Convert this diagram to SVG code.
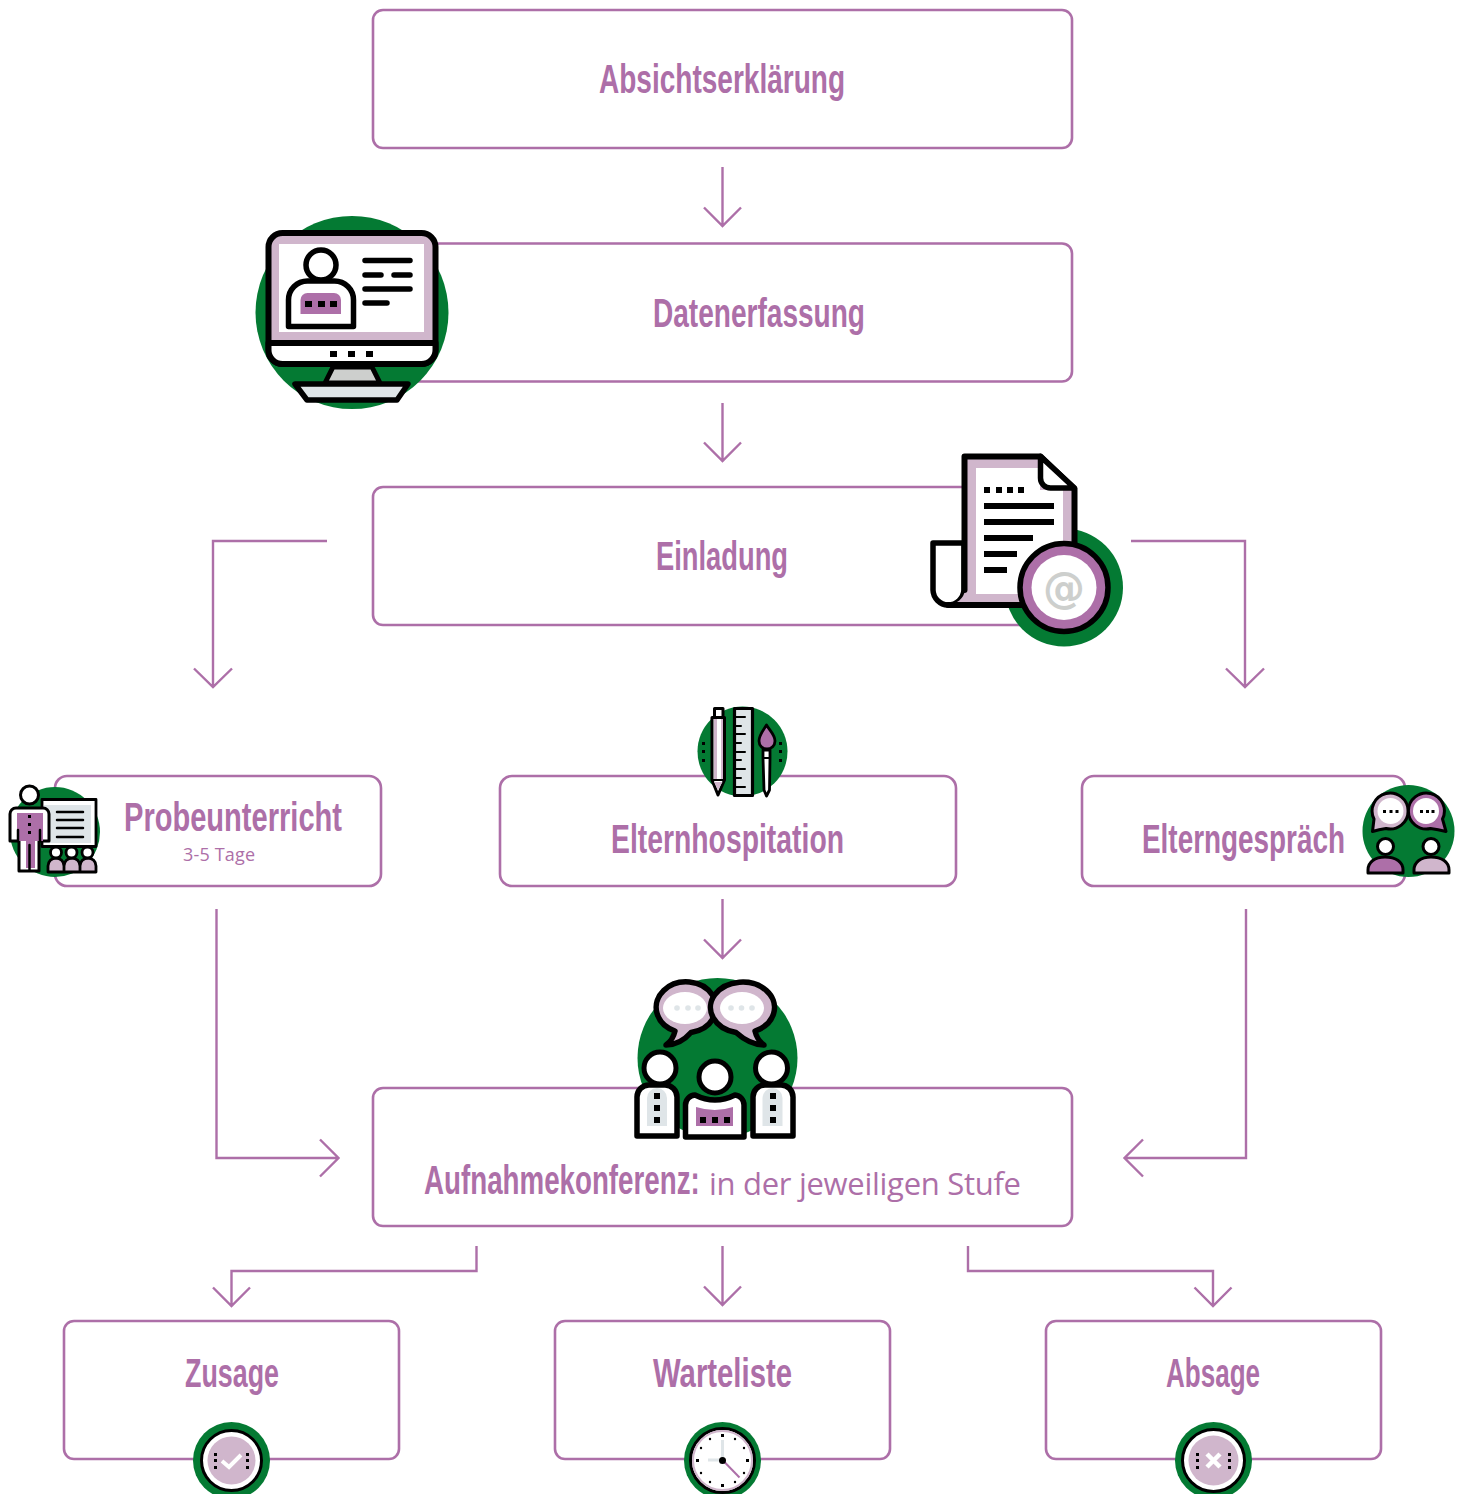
<svg xmlns="http://www.w3.org/2000/svg" width="1464" height="1494" viewBox="0 0 1464 1494">
<style>
.box{fill:#fff;stroke:#ad6fa8;stroke-width:2.6}
.con{fill:none;stroke:#ad6fa8;stroke-width:2.4}
.h{font-family:"Liberation Sans",sans-serif;font-weight:700;font-size:40px;fill:#ad6fa8}
.s{font-family:"Open Sans",sans-serif;font-weight:400;fill:#ad6fa8}
.g{fill:#047a33}
.k{stroke:#000;stroke-linejoin:round;stroke-linecap:round}
.l{fill:none;stroke:#000;stroke-linecap:round}
.b{fill:#000}
.lp{fill:#d0b6cc}
.p{fill:#ad6fa8}
.gr{fill:#dfe5e8}
.w{fill:#fff}
</style>
<g id="connectors" class="con">
<path d="M722.5 167V226M704 207.500L722.500 226L741 207.500"/>
<path d="M722.500 403V461M704 442.500L722.500 461L741 442.500"/>
<path d="M327 541H213V687M194 668.500L213 687L232 668.500"/>
<path d="M1131 541H1245V687M1226 668.500L1245 687L1264 668.500"/>
<path d="M722.500 899V958M704 939.500L722.500 958L741 939.500"/>
<path d="M216.500 909V1158H338M320 1139.500L338.500 1158L320 1176.500"/>
<path d="M1246 909V1158H1125M1143 1139.500L1124.500 1158L1143 1176.500"/>
<path d="M476.500 1246V1271H231.500V1306M213 1287.500L231.500 1306L250 1287.500"/>
<path d="M722.500 1246V1305M704 1286.500L722.500 1305L741 1286.500"/>
<path d="M968 1246V1271H1213V1306M1194.500 1287.500L1213 1306L1231.500 1287.500"/>
</g>
<g id="n-absicht">
<rect class="box" x="373" y="10" width="699" height="138" rx="10"/>
<text class="h" x="599" y="93" textLength="246" lengthAdjust="spacingAndGlyphs">Absichtserklärung</text>
</g>
<g id="n-daten">
<rect class="box" x="373" y="243.500" width="699" height="138" rx="10"/>
<text class="h" x="653" y="327" textLength="212" lengthAdjust="spacingAndGlyphs">Datenerfassung</text>
<circle class="g" cx="352" cy="312.500" r="96.500"/>
<rect class="lp k" x="268.500" y="233" width="167" height="131" rx="14" stroke-width="6"/>
<path class="w k" d="M268.500 343H435.500V350A14 14 0 0 1 421.500 364H282.500A14 14 0 0 1 268.500 350Z" stroke-width="6"/>
<rect class="w" x="279" y="244" width="145" height="88"/>
<path d="M333 367L325 383H380L372 367Z" fill="#cdcfcd" class="k" stroke-width="5"/>
<path class="gr k" d="M295 384H408L397 400H307Z" stroke-width="5.500"/>
<rect class="b" x="330" y="351" width="7" height="6"/><rect class="b" x="348" y="351" width="7" height="6"/><rect class="b" x="366" y="351" width="7" height="6"/>
<circle class="w k" cx="321" cy="265" r="15" stroke-width="5.500"/>
<path class="w k" d="M288.500 326.500V300A19 19 0 0 1 307.500 281H334.500A19 19 0 0 1 353.500 300V326.500Z" stroke-width="5.500"/>
<path class="p" d="M300.500 314V300A7 7 0 0 1 307.500 293H334A7 7 0 0 1 341 300V314Z"/>
<rect class="b" x="305" y="301" width="7" height="6"/><rect class="b" x="318" y="301" width="7" height="6"/><rect class="b" x="330" y="301" width="7" height="6"/>
<path class="l" stroke-width="5.500" d="M365 260.500H410M365 275H381M394 275H410M365 289H410M365 303H387"/>
</g>
<g id="n-einladung">
<rect class="box" x="373" y="487" width="699" height="138" rx="10"/>
<text class="h" x="656" y="570" textLength="132" lengthAdjust="spacingAndGlyphs">Einladung</text>
<circle class="g" cx="1064" cy="587.500" r="59"/>
<path class="w k" d="M933 543H964V590A16 16 0 0 1 948 605A15.500 15.500 0 0 1 933 590Z" stroke-width="5.500"/>
<path class="lp" d="M965 458H1040L1074 488V560L1040 604H948A16 16 0 0 0 965 590Z"/>
<path class="w" d="M976 468H1040V490H1063V594H976Z"/>
<path class="k" fill="none" stroke-width="6" d="M964.500 590V456.500H1040.500L1074.500 489V560M948 605H1040"/>
<path class="w k" d="M1040.500 456.500V478A10 10 0 0 0 1050.500 488H1074.500Z" stroke-width="5.500"/>
<path class="b" d="M984 487h6v6h-6zM996 487h6v6h-6zM1007 487h6v6h-6zM1018 487h6v6h-6zM984 503h70v6h-70zM984 519h70v6h-70zM984 535h49v6h-49zM984 551h33v6h-33zM984 567h23v6h-23z"/>
<circle cx="1064" cy="587.500" r="44" class="p k" stroke-width="5.500"/>
<circle cx="1064" cy="587.500" r="32.500" class="w"/>
<text x="1064" y="603" text-anchor="middle" font-family="DejaVu Sans,sans-serif" font-size="42" font-weight="700" fill="#cdcfcd">@</text>
</g>
<g id="n-probe">
<rect class="box" x="55" y="776" width="326" height="110" rx="12"/>
<text class="h" x="124" y="831" textLength="218" lengthAdjust="spacingAndGlyphs">Probeunterricht</text>
<text class="s" x="183" y="861" font-size="18" textLength="72">3-5 Tage</text>
<circle class="g" cx="55" cy="832" r="45"/>
<rect class="w k" x="42" y="799.500" width="54" height="47" stroke-width="2.800"/>
<rect class="gr" x="44" y="805" width="47" height="38"/>
<path class="l" stroke-width="2.500" stroke-linecap="butt" d="M57 812H83M57 820H83M57 828H83M57 837H83"/>
<circle class="w k" cx="29.500" cy="795" r="9" stroke-width="3"/>
<path class="w k" d="M10 841V814A6 6 0 0 1 16 808H43A6 6 0 0 1 49 814V841H39V871H19V841Z" stroke-width="3"/>
<path class="p" d="M17 813H43V841H35V868H26V841H17Z"/>
<path class="l" stroke-width="2.500" d="M29.500 845V870M18 830V841M40 830V841"/>
<path class="b" d="M28 815h3v3h-3zM28 823h3v3h-3zM28 831h3v3h-3z"/>
<path class="lp k" stroke-width="2.800" d="M48 872V866A8 8 0 0 1 64 866V872ZM64 872V866A8 8 0 0 1 80 866V872ZM80 872V866A8 8 0 0 1 96 866V872Z"/>
<g class="w k" stroke-width="2.800"><circle cx="56" cy="852.500" r="5.500"/><circle cx="71.500" cy="852.500" r="5.500"/><circle cx="87.500" cy="852.500" r="5.500"/></g>
</g>
<g id="n-hospitation">
<rect class="box" x="500" y="776" width="456" height="110" rx="12"/>
<text class="h" x="611" y="853" textLength="233" lengthAdjust="spacingAndGlyphs">Elternhospitation</text>
<circle class="g" cx="742.500" cy="751.500" r="45"/>
<rect class="w k" x="714.500" y="708.500" width="8.500" height="9" stroke-width="3"/>
<path class="w k" d="M712 717.500H724.500V780L718 795L712 780Z" stroke-width="3"/>
<path class="lp" d="M714 719H717V779H714ZM714 782H722.500L718 790Z"/><rect class="lp" x="721" y="719" width="2" height="60"/>
<path class="l" stroke-width="2" d="M712 780H724.500"/>
<rect class="gr k" x="734.500" y="708.500" width="18" height="87" stroke-width="3.200"/>
<path class="l" stroke-width="2" stroke-linecap="butt" d="M735 717H745M735 726H741M735 734H745M735 743H741M735 752H745M735 760H741M735 769H745M735 778H741M735 787H745"/>
<path class="p k" d="M766.500 725C763 731 759 735 759 741A7.500 7.500 0 0 0 775 741C775 735 770 731 766.500 725Z" stroke-width="2.800"/>
<path class="w k" d="M763 750H770V758L769.500 790L766.500 796L764 790L763 758Z" stroke-width="2.800"/>
<path class="l" stroke-width="2" d="M763 758H770"/>
<path class="b" d="M702 742h3v3h-3zM702 750h3v3h-3zM702 759h3v3h-3zM779 742h3v3h-3zM779 750h3v3h-3zM779 759h3v3h-3z"/>
</g>
<g id="n-gespraech">
<rect class="box" x="1082" y="776" width="323" height="110" rx="12"/>
<text class="h" x="1142" y="853" textLength="203" lengthAdjust="spacingAndGlyphs">Elterngespräch</text>
<circle class="g" cx="1408.500" cy="831" r="46"/>
<path class="lp k" d="M1372.500 831.500L1374 819A18 18 0 1 1 1386 828.500Q1379 829.500 1372.500 831.500Z" stroke-width="3"/>
<circle class="w" cx="1390.500" cy="811" r="13"/>
<path class="p k" d="M1446 831.500L1442.500 819A18 18 0 1 0 1430.500 828.500Q1438 829.500 1446 831.500Z" stroke-width="3"/>
<circle class="w" cx="1426" cy="811" r="13"/>
<path class="b" d="M1383 810h3v3h-3zM1389.500 810h3v3h-3zM1395.500 810h3v3h-3zM1420 810h3v3h-3zM1426 810h3v3h-3zM1431.500 810h3v3h-3z"/>
<path class="p k" d="M1368 873V870C1368 862 1375 857 1385 857C1396 857 1403 862 1403 870V873Z" stroke-width="3"/>
<circle class="w k" cx="1385.500" cy="846.500" r="8" stroke-width="3"/>
<path class="lp k" d="M1414 873V870C1414 862 1421 857 1431 857C1442 857 1449 862 1449 870V873Z" stroke-width="3"/>
<circle class="w k" cx="1431" cy="846.500" r="8" stroke-width="3"/>
</g>
<g id="n-aufnahme">
<rect class="box" x="373" y="1088" width="699" height="138" rx="10"/>
<text class="h" transform="translate(424 1194) scale(.6935 1)">Aufnahmekonferenz:</text>
<text class="s" x="709" y="1195" font-size="31" textLength="312">in der jeweiligen Stufe</text>
<circle class="g" cx="717.500" cy="1058" r="80"/>
<path class="lp k" d="M666 1045Q673 1040 675 1031A30 25.500 0 1 1 691 1032.500Q680 1045 666 1045Z" stroke-width="5.500"/>
<ellipse class="w" cx="685" cy="1008" rx="22" ry="16"/>
<path class="lp k" d="M764 1045Q757 1040 755 1031A32 25.500 0 1 0 736 1032.500Q750 1045 764 1045Z" stroke-width="5.500"/>
<ellipse class="w" cx="742" cy="1008" rx="22" ry="16"/>
<g class="gr"><circle cx="677" cy="1008" r="2.800"/><circle cx="688" cy="1008" r="2.800"/><circle cx="698" cy="1008" r="2.800"/><circle cx="731" cy="1008" r="2.800"/><circle cx="741.500" cy="1008" r="2.800"/><circle cx="752" cy="1008" r="2.800"/></g>
<path class="w k" d="M637 1136V1097A12 12 0 0 1 649 1085H665A12 12 0 0 1 677 1097V1136Z" stroke-width="5.500"/>
<path class="gr" d="M647 1126V1098A10 10 0 0 1 667 1098V1126Z"/>
<path class="b" d="M654 1093h6v6h-6zM654 1105h6v6h-6zM654 1117h6v6h-6z"/>
<circle class="w k" cx="660" cy="1068" r="16" stroke-width="5"/>
<path class="w k" d="M753 1136V1097A12 12 0 0 1 765 1085H781A12 12 0 0 1 793 1097V1136Z" stroke-width="5.500"/>
<path class="gr" d="M762.500 1126V1098A10 10 0 0 1 782.500 1098V1126Z"/>
<path class="b" d="M770 1093h6v6h-6zM770 1105h6v6h-6zM770 1117h6v6h-6z"/>
<circle class="w k" cx="771.500" cy="1068" r="16" stroke-width="5"/>
<path class="w k" d="M685.500 1137V1105A10 10 0 0 1 695 1095Q715 1105 735 1095A10 10 0 0 1 744 1105V1137Z" stroke-width="5.500"/>
<path class="p" d="M696 1126V1107Q715 1113 733 1107V1126Z"/>
<path class="b" d="M700 1117h6v6h-6zM712 1117h6v6h-6zM724 1117h6v6h-6z"/>
<circle class="w k" cx="715" cy="1077" r="16" stroke-width="5"/>
</g>
<g id="n-zusage">
<rect class="box" x="64" y="1321" width="335" height="138" rx="10"/>
<text class="h" x="185" y="1387" textLength="94" lengthAdjust="spacingAndGlyphs">Zusage</text>
<circle class="g" cx="231.500" cy="1460.500" r="38.500"/>
<circle class="w k" cx="231.500" cy="1460.500" r="30" stroke-width="3"/>
<circle class="lp" cx="231.500" cy="1460.500" r="24"/>
<path d="M222 1461L229 1467L241 1455" fill="none" stroke="#fff" stroke-width="4"/>
<path class="b" d="M214 1453h3v3h-3zM214 1459h3v3h-3zM214 1466h3v3h-3zM246 1453h3v3h-3zM246 1459h3v3h-3zM246 1466h3v3h-3z"/>
</g>
<g id="n-warteliste">
<rect class="box" x="555" y="1321" width="335" height="138" rx="10"/>
<text class="h" x="653" y="1387" textLength="139" lengthAdjust="spacingAndGlyphs">Warteliste</text>
<circle class="g" cx="722.500" cy="1460.500" r="38.500"/>
<circle class="w k" cx="722.500" cy="1460.500" r="32" stroke-width="3"/>
<circle fill="#fff" stroke="#d0b6cc" stroke-width="2" cx="722.500" cy="1460.500" r="29.500"/>
<path fill="none" stroke="#dfe5e8" stroke-width="3" d="M722.500 1460V1440M722.500 1460H708"/>
<path fill="none" stroke="#ad6fa8" stroke-width="2" d="M722.500 1460L739.500 1477.500"/>
<circle class="b" cx="722.500" cy="1460.500" r="3.500"/>
<path class="b" d="M721 1434h3v3h-3zM721 1484h3v3h-3zM696 1459h3v3h-3zM746 1459h3v3h-3z"/>
<g class="b"><circle cx="710" cy="1439" r="1.200"/><circle cx="735" cy="1439" r="1.200"/><circle cx="701" cy="1448" r="1.200"/><circle cx="744" cy="1448" r="1.200"/><circle cx="701" cy="1473" r="1.200"/><circle cx="744" cy="1473" r="1.200"/><circle cx="710" cy="1482" r="1.200"/><circle cx="735" cy="1482" r="1.200"/></g>
</g>
<g id="n-absage">
<rect class="box" x="1046" y="1321" width="335" height="138" rx="10"/>
<text class="h" x="1166" y="1387" textLength="94" lengthAdjust="spacingAndGlyphs">Absage</text>
<circle class="g" cx="1213.500" cy="1460.500" r="38.500"/>
<circle class="w k" cx="1213.500" cy="1460.500" r="31" stroke-width="3"/>
<circle class="lp" cx="1213.500" cy="1460.500" r="25"/>
<path d="M1207 1454L1220 1467M1220 1454L1207 1467" fill="none" stroke="#fff" stroke-width="4.500"/>
<path class="b" d="M1196 1453h3v3h-3zM1196 1459h3v3h-3zM1196 1466h3v3h-3zM1228 1453h3v3h-3zM1228 1459h3v3h-3zM1228 1466h3v3h-3z"/>
</g>
</svg>
